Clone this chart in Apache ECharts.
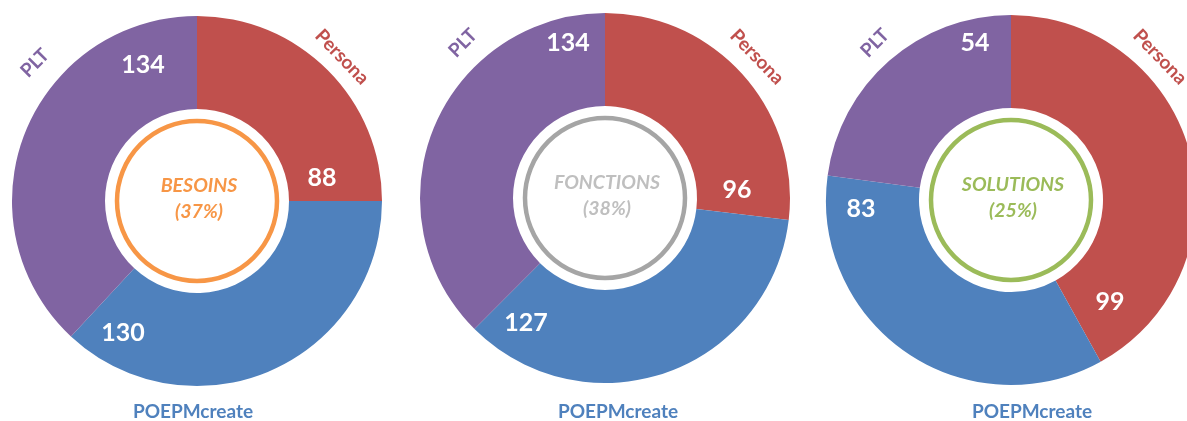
<!DOCTYPE html>
<html><head><meta charset="utf-8">
<script src="https://cdn.jsdelivr.net/npm/echarts@6/dist/echarts.min.js"></script>
<style>html,body{margin:0;padding:0;background:#fff}#c{width:1187px;height:421px}</style>
</head><body><div id="c"></div>
<script>
// ---- data ----
const categories = ['Persona', 'POEPMcreate', 'PLT'];
const groupNames = ['BESOINS', 'FONCTIONS', 'SOLUTIONS'];
const besoinsValues = [88, 130, 134];
const fonctionsValues = [96, 127, 134];
const solutionsValues = [99, 83, 54];
const groupValues = [besoinsValues, fonctionsValues, solutionsValues];

// ---- style / layout ----
const sliceColors = ['#C0504D', '#4F81BD', '#8064A2'];
const ringColors = ['#F79646', '#A5A5A5', '#9BBB59'];
const centerTextColors = ['#F79646', '#BFBFBF', '#9BBB59'];
const FONT = 'Lato, "Open Sans", sans-serif';
const centers = [[197, 201], [605, 198], [1011, 200]];
const innerR = 92, outerR = 185, ringR = 80;
// label offsets from each pie centre (Persona, POEPMcreate, PLT)
const valueOffsets = [
  [[125, -23], [-74, 132], [-54, -136]],
  [[132, -8], [-79, 125], [-37, -155]],
  [[99, 102], [-150, 9], [-36, -157]]
];
const nameOffsets = [
  [[145, -144], [-4, 211], [-162, -138]],
  [[152, -141], [13, 214], [-142, -155]],
  [[149, -143], [21, 212], [-136, -157]]
];
const nameRotate = [-46, 0, 45];

const total = groupValues.reduce((s, arr) => s + arr.reduce((a, b) => a + b, 0), 0);

const series = [];
const graphic = [];
groupValues.forEach((vals, g) => {
  const [cx, cy] = centers[g];
  const data = categories.map((c, i) => ({ name: c, value: vals[i], itemStyle: { color: sliceColors[i] } }));
  series.push({
    type: 'pie', center: [cx, cy], radius: [innerR, outerR], startAngle: 90, clockwise: true,
    avoidLabelOverlap: false, silent: true, animation: false,
    itemStyle: { borderWidth: 0 },
    emphasis: { disabled: true },
    label: { show: true, position: 'inside', formatter: '{c}', color: '#fff', fontFamily: FONT,
             fontWeight: 'bold', fontSize: 25, textBorderWidth: 0 },
    labelLine: { show: false },
    labelLayout: (p) => ({ x: cx + valueOffsets[g][p.dataIndex][0], y: cy + valueOffsets[g][p.dataIndex][1],
                           align: 'center', verticalAlign: 'middle' }),
    data: data
  });
  series.push({
    type: 'pie', center: [cx, cy], radius: [innerR, outerR], startAngle: 90, clockwise: true,
    avoidLabelOverlap: false, silent: true, animation: false, z: 3,
    itemStyle: { color: 'rgba(0,0,0,0)', borderWidth: 0 },
    emphasis: { disabled: true },
    label: { show: true, position: 'outside', formatter: '{b}', fontFamily: FONT,
             fontWeight: 'bold', fontSize: 19, textBorderWidth: 0 },
    labelLine: { show: false },
    labelLayout: (p) => ({ x: cx + nameOffsets[g][p.dataIndex][0], y: cy + nameOffsets[g][p.dataIndex][1],
                           align: 'center', verticalAlign: 'middle' }),
    data: categories.map((c, i) => ({ name: c, value: vals[i],
      label: { color: sliceColors[i], rotate: nameRotate[i] } }))
  });
  const sum = vals.reduce((a, b) => a + b, 0);
  const pct = Math.round(sum / total * 100);
  graphic.push({
    type: 'circle', silent: true, z: 10,
    shape: { cx: cx, cy: cy, r: ringR },
    style: { fill: null, stroke: ringColors[g], lineWidth: 4.5 }
  });
  graphic.push({
    type: 'text', silent: true, z: 10, x: cx + 2, y: cy - 2,
    style: { text: groupNames[g] + '\n(' + pct + '%)', fill: centerTextColors[g],
             fontFamily: FONT, fontSize: 19.5, fontWeight: 'bold', fontStyle: 'italic',
             lineHeight: 26, align: 'center', verticalAlign: 'middle' }
  });
});

const chart = echarts.init(document.getElementById('c'), null, { renderer: 'canvas' });
chart.setOption({ backgroundColor: '#fff', animation: false, series: series, graphic: graphic });
</script></body></html>
